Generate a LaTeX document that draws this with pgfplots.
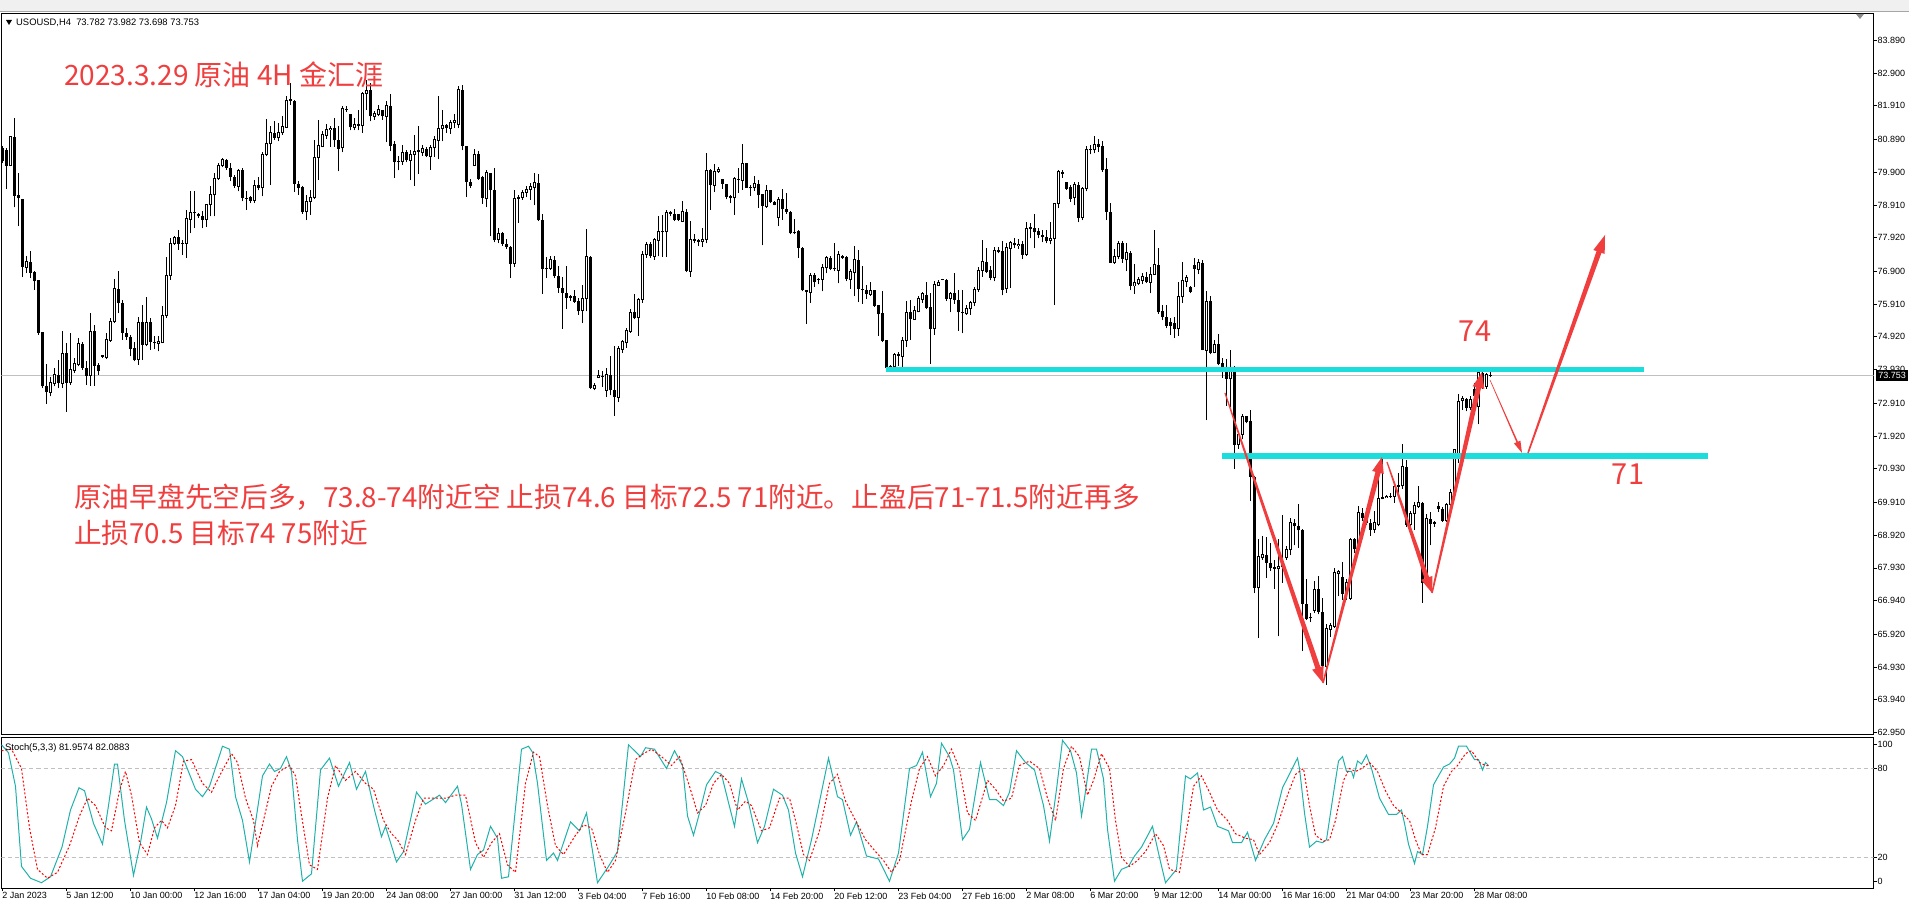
\documentclass[border=0pt]{standalone}
\usepackage{fontspec}
\setmainfont{Liberation Sans}
\newfontfamily\cjk{Noto Sans CJK SC}
\usepackage{pgfplots}
\usepackage{pgfplotstable}
\pgfplotsset{compat=1.18}
\usetikzlibrary{calc}
\definecolor{titlered}{RGB}{240,62,62}
\definecolor{cyanline}{RGB}{28,220,220}
\definecolor{stochk}{RGB}{32,178,170}
\definecolor{tbgray}{RGB}{240,240,240}
\definecolor{pricegray}{RGB}{192,192,192}

\pgfplotsset{candle/.style={only marks, mark=*, mark size=0pt,
  mark options={draw=none, fill=none}, forget plot}}

\pgfplotstableread{
i o h l c
1 80.64 80.69 80.18 80.23
2 80.59 80.64 79.39 80.10
3 80.10 80.97 80.10 80.97
4 80.97 81.54 78.84 79.19
5 79.22 79.88 78.27 79.12
6 79.09 79.09 76.73 77.03
7 77.03 77.36 76.85 77.19
8 77.19 77.51 76.70 76.85
9 76.87 76.90 76.35 76.60
10 76.63 76.63 74.99 75.04
11 75.07 75.07 73.37 73.42
12 73.44 74.11 72.90 73.24
13 73.24 73.72 73.12 73.54
14 73.52 73.98 73.42 73.77
15 73.77 74.23 73.37 73.52
16 73.52 75.09 73.37 74.43
17 74.43 74.73 72.65 73.54
18 73.54 75.04 73.47 73.93
19 73.91 74.28 73.82 74.11
20 74.08 74.88 74.03 74.71
21 74.71 74.78 73.93 73.98
22 73.98 74.18 73.47 73.75
23 73.75 75.64 73.44 75.09
24 75.09 75.29 73.44 74.05
25 74.08 74.13 73.77 73.88
26 74.33 74.38 74.28 74.35
27 74.31 75.04 74.25 74.84
28 74.81 75.49 74.78 75.39
29 75.39 76.67 75.34 76.37
30 76.37 76.90 75.64 75.94
31 75.94 76.04 74.84 75.04
32 75.04 75.19 74.84 74.92
33 74.92 74.99 74.33 74.55
34 74.58 74.78 74.18 74.21
35 74.23 75.52 74.08 75.36
36 75.36 75.89 74.23 74.68
37 74.68 76.12 74.63 75.36
38 75.36 75.49 74.53 74.78
39 74.78 74.96 74.55 74.73
40 74.73 74.94 74.48 74.77
41 74.75 75.86 74.73 75.56
42 75.56 77.34 75.49 76.78
43 76.78 77.91 76.65 77.76
44 77.76 77.96 77.71 77.93
45 77.93 78.14 77.56 77.73
46 77.76 77.86 77.41 77.74
47 77.76 78.77 77.31 78.49
48 78.47 79.32 78.06 78.67
49 78.67 79.32 78.21 78.69
50 78.64 78.67 78.52 78.57
51 78.59 78.72 78.21 78.47
52 78.47 78.95 78.26 78.92
53 78.92 79.50 78.57 79.22
54 79.22 79.88 78.57 79.70
55 79.70 80.18 79.68 80.12
56 80.10 80.33 80.06 80.30
57 80.28 80.30 79.98 80.03
58 80.03 80.18 79.63 79.76
59 79.76 79.83 79.43 79.48
60 79.48 80.00 79.32 79.96
61 79.96 80.03 79.02 79.12
62 79.12 79.32 78.77 79.10
63 79.15 79.19 78.97 79.04
64 79.04 79.68 78.97 79.51
65 79.53 79.76 79.35 79.43
66 79.43 80.50 79.17 80.45
67 80.45 81.51 80.38 80.76
68 80.76 81.29 79.53 81.09
69 81.09 81.44 80.89 80.94
70 80.94 81.39 80.84 81.09
71 81.09 81.61 81.04 81.29
72 81.27 82.20 81.24 82.07
73 82.07 82.60 81.95 82.10
74 82.07 82.10 79.30 79.56
75 79.56 79.63 79.22 79.43
76 79.45 79.50 78.65 78.69
77 78.70 79.22 78.45 79.02
78 79.02 79.37 78.62 79.15
79 79.15 80.89 79.09 80.36
80 80.36 81.49 79.66 80.71
81 80.69 81.14 80.66 81.04
82 81.01 81.37 80.91 81.19
83 81.19 81.29 80.67 81.24
84 81.24 81.54 80.67 80.87
85 80.89 81.29 79.93 80.61
86 80.64 81.92 80.50 81.82
87 81.82 81.90 81.72 81.78
88 81.67 81.67 81.17 81.26
89 81.26 81.54 81.17 81.36
90 81.37 81.80 81.17 81.31
91 81.31 82.32 81.09 82.27
92 82.27 82.68 81.80 82.38
93 82.38 82.60 81.44 81.59
94 81.59 81.75 81.49 81.67
95 81.65 81.95 81.59 81.80
96 81.80 81.80 81.49 81.59
97 81.59 82.05 80.81 81.92
98 81.92 82.28 80.54 80.71
99 80.77 80.84 79.73 80.20
100 80.25 80.38 79.96 80.20
101 80.23 80.74 80.13 80.50
102 80.50 80.57 80.20 80.26
103 80.26 80.59 79.66 80.45
104 80.45 81.04 79.50 80.54
105 80.54 81.31 79.86 80.56
106 80.51 80.74 80.40 80.61
107 80.61 80.67 80.36 80.38
108 80.38 80.74 79.98 80.64
109 80.64 80.99 80.36 80.89
110 80.87 82.22 80.30 81.24
111 81.24 81.78 80.84 81.31
112 81.32 81.37 81.09 81.24
113 81.22 81.47 81.07 81.41
114 81.41 81.65 81.24 81.46
115 81.36 82.52 81.24 82.40
116 82.40 82.55 80.57 80.69
117 80.71 80.71 79.15 79.60
118 79.61 79.70 79.43 79.48
119 80.10 80.61 80.10 80.45
120 80.45 80.56 79.68 79.71
121 79.76 79.80 78.95 79.12
122 79.12 79.98 78.85 79.88
123 79.88 79.88 77.96 79.35
124 79.35 80.03 77.78 77.84
125 77.86 78.22 77.76 78.06
126 78.06 78.08 77.68 77.74
127 77.74 77.88 77.58 77.64
128 77.64 77.68 76.70 77.14
129 77.14 79.35 77.05 79.12
130 79.12 79.22 78.37 79.15
131 79.15 79.35 79.07 79.30
132 79.30 79.48 79.15 79.38
133 79.38 79.58 79.07 79.46
134 79.45 79.88 78.90 79.58
135 79.58 79.86 78.42 78.45
136 78.45 78.65 76.23 76.97
137 76.98 77.34 76.70 77.00
138 77.00 77.36 76.95 77.26
139 77.26 77.38 76.70 76.75
140 76.77 77.07 76.25 76.40
141 76.40 76.73 75.16 76.25
142 76.25 77.07 75.76 76.10
143 76.15 76.20 76.02 76.10
144 76.17 76.35 75.95 75.99
145 76.02 76.10 75.59 75.69
146 75.72 76.50 75.34 76.07
147 76.07 78.18 75.69 77.34
148 77.34 77.38 73.35 73.37
149 73.37 73.54 73.30 73.44
150 73.70 73.93 73.67 73.75
151 73.75 73.88 73.40 73.73
152 73.30 73.98 73.10 73.77
153 73.77 74.35 73.15 73.30
154 73.30 74.65 72.54 73.10
155 73.10 74.65 72.95 74.56
156 74.54 74.84 74.44 74.79
157 74.74 75.19 74.59 75.12
158 75.09 75.75 75.04 75.67
159 75.67 76.23 75.45 75.48
160 75.52 76.10 74.96 76.05
161 76.05 77.53 75.95 77.41
162 77.41 77.79 77.31 77.72
163 77.72 77.79 77.31 77.36
164 77.36 77.92 77.26 77.87
165 77.85 78.59 77.36 78.10
166 78.10 78.62 77.34 78.12
167 78.10 78.76 77.34 78.68
168 78.66 78.73 78.57 78.68
169 78.63 78.80 78.42 78.47
170 78.63 78.63 78.42 78.45
171 78.42 79.03 78.39 78.71
172 78.71 78.80 76.88 76.91
173 76.91 78.44 76.74 77.87
174 77.87 78.02 77.75 77.82
175 77.84 77.87 77.67 77.80
176 77.80 78.22 77.65 77.87
177 77.87 80.49 77.75 79.96
178 79.96 79.99 78.76 79.51
179 79.51 80.14 79.30 79.92
180 79.92 80.07 79.89 79.99
181 79.71 79.71 79.41 79.55
182 79.55 79.56 79.08 79.16
183 79.18 79.20 78.96 79.13
184 79.13 79.75 78.62 79.71
185 79.71 80.04 79.28 79.66
186 79.66 80.77 79.38 80.17
187 80.17 80.19 79.43 79.43
188 79.43 79.53 79.18 79.45
189 79.43 79.78 79.33 79.55
190 79.55 79.68 78.83 79.20
191 79.23 79.23 77.69 78.88
192 78.88 79.53 78.83 79.35
193 79.35 79.38 78.98 79.00
194 79.00 79.03 78.90 78.91
195 78.52 79.16 78.27 79.08
196 79.08 79.40 78.47 78.78
197 78.78 79.26 78.64 78.70
198 78.70 78.73 78.02 78.05
199 78.09 78.49 78.02 78.05
200 78.12 78.15 77.31 77.62
201 77.62 77.65 76.30 76.33
202 76.35 76.35 75.32 76.27
203 76.27 76.84 75.95 76.78
204 76.78 76.84 76.44 76.58
205 76.68 76.71 76.51 76.64
206 76.66 77.13 76.30 77.01
207 77.01 77.38 76.84 77.31
208 77.31 77.38 76.94 76.98
209 77.01 77.75 76.91 76.96
210 76.94 77.51 76.54 77.41
211 77.38 77.41 77.28 77.31
212 77.33 77.36 76.61 76.66
213 76.66 76.98 76.38 76.91
214 76.88 77.67 76.15 77.26
215 77.26 77.54 75.97 76.37
216 76.38 77.08 75.93 76.34
217 76.35 76.48 76.07 76.23
218 76.20 76.59 76.17 76.32
219 76.33 76.35 75.83 75.85
220 75.87 75.90 74.96 75.60
221 75.63 76.30 74.76 74.79
222 74.82 74.82 73.88 73.98
223 74.01 74.06 73.90 74.02
224 74.01 74.44 73.98 74.39
225 74.36 74.46 74.04 74.38
226 74.34 74.92 74.02 74.82
227 74.82 76.01 74.62 75.66
228 75.66 76.04 74.84 75.45
229 75.45 75.85 75.43 75.73
230 75.68 76.15 75.66 76.07
231 76.05 76.29 75.96 76.24
232 76.20 76.57 75.77 75.79
233 75.81 76.26 74.11 75.15
234 75.17 76.61 74.98 76.50
235 76.48 76.63 76.46 76.57
236 76.66 76.68 76.64 76.66
237 76.63 76.66 76.01 76.07
238 76.09 76.29 75.66 76.24
239 76.26 76.85 75.92 76.04
240 76.04 76.33 75.10 75.66
241 75.66 76.33 75.03 75.67
242 75.62 75.90 75.59 75.77
243 75.77 76.01 75.59 75.96
244 75.96 76.44 75.85 76.35
245 76.35 77.02 76.29 76.93
246 76.93 77.86 76.74 77.19
247 77.19 77.60 76.85 76.89
248 76.93 77.08 76.63 76.71
249 76.71 77.64 76.60 77.53
250 77.56 77.64 77.45 77.50
251 77.53 77.81 76.18 76.35
252 76.37 77.75 76.26 77.62
253 77.60 77.83 76.41 77.77
254 77.77 77.90 77.60 77.69
255 77.69 77.88 77.58 77.73
256 77.73 77.81 77.27 77.41
257 77.41 78.39 77.38 78.20
258 78.20 78.37 77.90 78.22
259 78.22 78.65 77.60 78.09
260 78.11 78.20 77.90 78.00
261 78.01 78.16 77.78 77.94
262 77.94 78.16 77.75 77.81
263 77.83 78.39 77.72 77.90
264 77.90 78.98 75.90 78.95
265 78.95 79.96 78.81 79.91
266 79.91 79.96 79.73 79.85
267 79.60 79.62 79.37 79.40
268 79.45 79.51 79.01 79.09
269 79.13 79.62 78.90 79.52
270 79.52 79.62 78.39 78.53
271 78.53 79.45 78.45 79.41
272 79.41 80.69 79.32 80.58
273 80.58 80.72 80.44 80.60
274 80.58 81.00 80.47 80.74
275 80.77 80.92 80.51 80.66
276 80.69 80.85 79.91 79.96
277 79.99 80.32 78.45 78.70
278 78.70 78.98 77.16 77.16
279 77.16 77.58 77.13 77.36
280 77.36 77.83 77.27 77.75
281 77.75 77.83 77.16 77.27
282 77.25 77.75 76.91 77.47
283 77.47 77.53 76.33 76.46
284 76.46 77.13 76.22 76.57
285 76.55 76.74 76.48 76.66
286 76.63 76.85 76.52 76.74
287 76.74 76.89 76.55 76.57
288 76.57 77.04 76.24 76.82
289 76.82 78.14 76.80 77.10
290 77.10 77.60 75.62 75.66
291 75.70 75.88 75.43 75.51
292 75.51 75.90 75.18 75.25
293 75.37 75.48 74.98 75.25
294 75.34 75.51 74.90 75.17
295 75.17 76.57 74.95 76.13
296 76.13 77.19 75.96 76.63
297 76.60 76.78 76.44 76.71
298 76.44 76.46 76.24 76.29
299 77.10 77.30 76.44 76.97
300 76.97 77.27 76.82 77.16
301 77.16 77.24 74.52 74.52
302 74.52 76.30 72.40 76.00
303 76.00 76.15 74.39 74.44
304 74.44 74.84 74.42 74.69
305 74.69 75.02 74.06 74.09
306 74.12 74.29 73.68 73.99
307 73.99 74.24 72.84 73.65
308 73.65 74.52 72.80 73.88
309 73.88 74.04 70.93 71.66
310 71.66 72.07 71.53 71.97
311 71.97 72.60 71.82 72.52
312 72.52 72.54 72.30 72.34
313 72.37 72.70 69.95 70.69
314 70.69 70.71 67.17 67.33
315 67.33 68.79 65.81 68.26
316 68.23 68.89 68.18 68.33
317 68.33 68.87 67.63 68.08
318 68.08 68.67 67.83 67.93
319 67.96 68.18 67.30 67.90
320 67.90 68.79 65.86 67.96
321 67.96 69.52 67.48 68.00
322 68.23 68.59 68.18 68.48
323 68.48 69.45 68.31 69.29
324 69.29 69.40 68.61 69.19
325 69.21 69.85 68.54 69.07
326 69.09 69.11 65.41 66.85
327 66.85 67.58 66.35 66.39
328 66.42 66.57 66.29 66.44
329 66.65 67.53 66.57 67.28
330 67.28 67.70 66.52 66.59
331 66.59 67.02 64.57 64.96
332 64.96 66.22 64.40 66.09
333 66.07 66.25 65.84 66.19
334 66.17 67.93 66.12 67.78
335 67.77 67.88 67.07 67.83
336 67.66 68.10 66.97 67.15
337 67.15 67.58 66.97 67.50
338 67.00 68.84 66.97 68.79
339 68.79 68.84 68.39 68.49
340 68.49 69.80 68.47 69.60
341 69.60 69.75 69.35 69.45
342 69.48 69.75 69.24 69.29
343 69.29 69.40 68.91 69.09
344 69.09 69.65 68.99 69.29
345 69.24 70.81 69.19 70.02
346 70.02 71.29 70.00 70.05
347 70.05 70.15 70.05 70.10
348 70.10 70.20 70.05 70.10
349 70.10 70.52 69.90 70.40
350 70.40 70.81 70.10 70.41
351 70.41 71.69 70.32 70.99
352 70.99 71.21 69.17 69.24
353 69.24 69.65 69.19 69.58
354 69.58 69.92 69.09 69.82
355 69.80 70.40 69.75 69.90
356 69.90 69.92 66.87 67.46
357 67.46 69.55 67.43 69.42
358 69.42 69.62 68.61 69.27
359 69.27 69.35 69.17 69.29
360 69.80 69.92 69.62 69.72
361 69.72 69.78 69.32 69.35
362 69.35 69.90 69.32 69.85
363 69.85 70.32 69.80 70.20
364 70.20 71.51 70.18 71.51
365 71.26 73.18 71.11 72.98
366 73.00 73.12 72.72 73.05
367 73.05 73.08 72.67 72.78
368 72.78 73.13 72.72 73.03
369 73.33 73.53 72.82 73.13
370 72.82 73.88 72.27 73.83
371 73.83 73.88 73.35 73.43
372 73.43 73.83 73.35 73.78
373 73.782 73.982 73.698 73.753
}\candles

\pgfplotstableread{
x k
2 96
9 90.6
16 68
22 14
31 6
42 3
51 7
62.5 27
71 52
79.5 67
85 65
94 43
103 29
109 55
115 83
118 83
125 45
134 8
141 30
147 54
152 46
158 33
167 57
176 92
183 88
196 66
203 61
210 68
223 95
230 93
236 61
243 45
250 17
257 48
263 75
270 83
275 78
281 80
287 88
292 78
298 32
303 4
312 9
321 79
330 87
339 68
350 84
357 66
366 78
375 52
382 34
386 41
397 17
404 24
417 64
426 56
440 62
446 57
458 68
462 56
471 12
478 22
484 25
491 41
498 33
502 6
509 7
522 93
529 95
533 91
538 70
547 18
554 23
558 18
571 44
580 38
587 50
598 3
609 14
618 24
629 96
641 88
646 94
655 93
667 80
675 92
683 82
688 48
694 35
700 50
707 69
716 78
722 76
729 57
735 41
742 73
749 57
758 30
765 41
774 66
783 62
789 52
796 23
803 7
812 32
821 61
829 87
838 61
843 59
851 35
857 44
867 21
879 19
890 4
899 23
910 80
917 82
923 91
931 61
937 70
942 97
950 88
954 79
963 32
970 39
981 84
990 59
997 59
1004 55
1010 64
1017 92
1026 84
1035 79
1044 55
1050 31
1057 66
1063 99
1071 92
1077 77
1082 48
1085 60
1092 93
1097 93
1104 73
1108 39
1115 4
1122 12
1129 14
1135 21
1142 27
1153 41
1160 20
1166 3
1177 12
1186 75
1191 73
1198 77
1204 52
1211 54
1218 41
1229 38
1233 30
1242 30
1248 37
1256 18
1265 32
1274 43
1283 67
1292 79
1298 87
1300 80
1305 50
1310 27
1317 31
1323 30
1327 32
1333 59
1339 85
1343 88
1347 78
1352 78
1354 74
1358 85
1362 83
1367 89
1372 80
1380 60
1389 49
1397 49
1402 52
1405 43
1409 29
1415 16
1418 24
1423 22
1428 41
1434 69
1444 81
1450 83
1455 87
1459 95
1467 95
1475 86
1479 86
1483 79
1486 84
1489 82
}\stochK

\pgfplotstableread{
x d
2 92
12 93
22 80
30 40
38 12
48 6
58 10
70 28
80 48
88 60
96 55
106 40
112 38
120 65
126 78
132 62
140 30
148 22
155 40
162 45
168 40
176 55
184 85
192 86
203 70
212 64
220 75
232 90
238 84
246 60
254 45
258 28
264 45
272 68
280 78
290 82
296 75
304 40
310 15
318 12
328 60
336 82
346 72
356 78
366 70
374 66
384 45
392 36
398 32
406 22
416 45
424 60
434 60
446 60
456 62
466 62
476 30
484 20
492 30
500 36
508 15
516 10
526 70
534 91
540 88
548 55
556 28
564 22
576 35
584 42
592 40
600 22
608 10
616 18
626 50
636 86
644 90
652 93
662 88
672 82
680 88
690 68
698 50
706 55
714 70
722 76
730 70
738 52
746 58
752 55
762 38
770 40
780 60
790 60
796 45
804 22
810 18
820 38
830 70
838 76
846 58
856 45
866 32
876 24
884 18
892 10
900 18
912 58
920 80
928 88
936 75
944 82
952 93
960 80
968 50
976 45
988 72
996 66
1004 58
1012 60
1020 82
1030 85
1040 80
1048 60
1056 45
1064 80
1072 95
1080 88
1088 62
1094 72
1102 90
1110 80
1116 45
1122 20
1130 14
1138 18
1146 24
1156 36
1164 28
1170 12
1180 10
1188 42
1194 68
1202 75
1210 64
1218 52
1228 45
1236 36
1246 33
1254 32
1260 22
1270 30
1278 42
1288 62
1296 76
1304 80
1310 55
1316 35
1324 31
1330 32
1336 45
1344 72
1350 80
1356 78
1362 80
1370 84
1378 78
1386 65
1394 55
1402 50
1410 45
1416 32
1422 22
1428 22
1436 40
1444 68
1452 78
1458 82
1466 90
1472 92
1480 84
1486 82
1489 82
}\stochD

\newcommand{\tarrow}[6]{%
  \coordinate (tA) at #1; \coordinate (tB) at #2;
  \coordinate (tC) at ($(tB)!#6!(tA)$);
  \fill[titlered] ($(tA)!#3!90:(tB)$) -- ($(tC)!#4!-90:(tA)$) -- ($(tC)!#5!-90:(tA)$) -- (tB)
    -- ($(tC)!#5!90:(tA)$) -- ($(tC)!#4!90:(tA)$) -- ($(tA)!#3!-90:(tB)$) -- cycle;}

\begin{document}
\begin{tikzpicture}[x=1pt,y=1pt]
\path[use as bounding box] (0pt,0pt) rectangle (1909pt,907pt);
\fill[white] (0pt,0pt) rectangle (1909pt,907pt);
\fill[tbgray] (0pt,895pt) rectangle (1909pt,907pt);
\draw[black!35, line width=0.8pt] (0pt,895.5pt) -- (1909pt,895.5pt);

% ---------- main price panel ----------
\begin{axis}[
  at={(1.5pt,893.5pt)}, anchor=north west, scale only axis,
  width=1872pt, height=721pt,
  xmin=2, xmax=1874, ymin=62.889, ymax=84.706,
  axis line style={black, line width=1pt},
  xtick=\empty,
  ytick={62.95,63.94,64.93,65.92,66.94,67.93,68.92,69.91,70.93,71.92,72.91,73.93,74.92,75.91,76.90,77.92,78.91,79.90,80.89,81.91,82.90,83.89},
  ytick pos=right, yticklabel pos=right,
  tick align=outside, major tick length=3pt,
  tick style={black, line width=0.8pt},
  yticklabel style={font=\fontsize{9}{10}\selectfont, anchor=west, inner sep=0pt, xshift=1pt},
  /pgf/number format/fixed, /pgf/number format/fixed zerofill,
  /pgf/number format/precision=3, /pgf/number format/assume math mode=true,
]
\draw[pricegray, line width=1pt] (axis cs:2,73.753) -- (axis cs:1874,73.753);
% wicks
\addplot[candle,
  error bars/.cd, y dir=plus, y explicit, error mark=none,
  error bar style={draw=black, line width=1pt}]
  table[x expr=4*\thisrow{i}-1.3, y=l, y error plus expr={\thisrow{h}-\thisrow{l}}] {\candles};
% bear bodies
\addplot[candle,
  x filter/.expression={\thisrow{c}<\thisrow{o} ? x : nan},
  error bars/.cd, y dir=plus, y explicit, error mark=none,
  error bar style={draw=black, line width=3pt}]
  table[x expr=4*\thisrow{i}-1.3, y=c, y error plus expr={\thisrow{o}-\thisrow{c}}] {\candles};
% bull bodies: outline
\addplot[candle,
  x filter/.expression={\thisrow{c}<\thisrow{o} ? nan : x},
  error bars/.cd, y dir=plus, y explicit, error mark=none,
  error bar style={draw=black, line width=3pt}]
  table[x expr=4*\thisrow{i}-1.3, y expr={\thisrow{o}-0.015}, y error plus expr={\thisrow{c}-\thisrow{o}+0.03}] {\candles};
% bull bodies: white inside
\addplot[candle,
  x filter/.expression={\thisrow{c}<\thisrow{o} ? nan : x},
  error bars/.cd, y dir=plus, y explicit, error mark=none,
  error bar style={draw=white, line width=1pt}]
  table[x expr=4*\thisrow{i}-1.3, y expr={\thisrow{o}+0.015}, y error plus expr={max(\thisrow{c}-\thisrow{o}-0.03,0)}] {\candles};
\end{axis}

% ---------- stochastic panel ----------
\begin{axis}[
  at={(1.5pt,169.5pt)}, anchor=north west, scale only axis,
  width=1872pt, height=151pt,
  xmin=2, xmax=1874, ymin=-0.9, ymax=100.9,
  axis line style={black, line width=1pt},
  ytick={3.8,20,80,96.2}, yticklabels={0,20,80,100},
  ytick pos=right, yticklabel pos=right,
  xtick={2.7,66.7,130.7,194.7,258.7,322.7,386.7,450.7,514.7,578.7,642.7,706.7,770.7,834.7,898.7,962.7,1026.7,1090.7,1154.7,1218.7,1282.7,1346.7,1410.7,1474.7},
  xticklabels={2 Jan 2023,5 Jan 12:00,10 Jan 00:00,12 Jan 16:00,17 Jan 04:00,19 Jan 20:00,24 Jan 08:00,27 Jan 00:00,31 Jan 12:00,3 Feb 04:00,7 Feb 16:00,10 Feb 08:00,14 Feb 20:00,20 Feb 12:00,23 Feb 04:00,27 Feb 16:00,2 Mar 08:00,6 Mar 20:00,9 Mar 12:00,14 Mar 00:00,16 Mar 16:00,21 Mar 04:00,23 Mar 20:00,28 Mar 08:00},
  xtick pos=bottom,
  tick align=outside, major tick length=3pt,
  tick style={black, line width=0.8pt},
  yticklabel style={font=\fontsize{9}{10}\selectfont, anchor=west, inner sep=0pt, xshift=1pt},
  xticklabel style={font=\fontsize{9}{10}\selectfont, anchor=north west, inner sep=0pt, xshift=0pt, yshift=-1pt},
]
\draw[pricegray, line width=1pt, dash pattern=on 4pt off 3pt] (axis cs:2,80) -- (axis cs:1874,80);
\draw[pricegray, line width=1pt, dash pattern=on 4pt off 3pt] (axis cs:2,20) -- (axis cs:1874,20);
\addplot[stochk, line width=1pt, mark=none] table[x=x, y=k] {\stochK};
\addplot[red, line width=1pt, mark=none, dash pattern=on 2pt off 2pt] table[x=x, y=d] {\stochD};
\end{axis}

% ---------- annotations ----------
\draw[cyanline, line width=5pt] (886pt,537pt) -- (1644pt,537pt);
\draw[cyanline, line width=6pt] (1222pt,451pt) -- (1708pt,451pt);

\tarrow{(1225pt,514pt)}{(1323pt,224pt)}{0.6pt}{2.6pt}{6pt}{16pt}
\tarrow{(1323pt,224pt)}{(1382pt,450pt)}{0.8pt}{2.6pt}{6pt}{16pt}
\tarrow{(1387pt,445pt)}{(1432pt,314pt)}{0.6pt}{2.4pt}{6pt}{16pt}
\tarrow{(1432pt,314pt)}{(1482pt,535pt)}{0.8pt}{2.6pt}{6pt}{16pt}
\tarrow{(1490pt,527pt)}{(1522pt,454pt)}{0.3pt}{0.8pt}{3.5pt}{12pt}
\tarrow{(1528pt,454pt)}{(1605pt,672pt)}{0.8pt}{2.6pt}{6pt}{18pt}

\node[anchor=west, inner sep=0pt, text=titlered, font=\cjk\fontsize{28}{30}\selectfont] at (64pt,832pt) {2023.3.29 原油 4H 金汇涯};
\node[anchor=west, inner sep=0pt, text=titlered, font=\cjk\fontsize{27.7}{30}\selectfont] at (74pt,410pt) {原油早盘先空后多，73.8-74附近空 止损74.6 目标72.5 71附近。止盈后71-71.5附近再多};
\node[anchor=west, inner sep=0pt, text=titlered, font=\cjk\fontsize{27.7}{30}\selectfont] at (74pt,374pt) {止损70.5 目标74 75附近};
\node[inner sep=0pt, text=titlered, font=\cjk\fontsize{29}{30}\selectfont] at (1475pt,576pt) {74};
\node[inner sep=0pt, text=titlered, font=\cjk\fontsize{29}{30}\selectfont] at (1628pt,433pt) {71};

% header texts
\fill[black] (6pt,887pt) -- (12pt,887pt) -- (9pt,882pt) -- cycle;
\node[anchor=west, inner sep=0pt, font=\fontsize{9.4}{10}\selectfont] at (16pt,884pt) {USOUSD,H4\ \ 73.782 73.982 73.698 73.753};
\node[anchor=west, inner sep=0pt, font=\fontsize{9.4}{10}\selectfont] at (5pt,159pt) {Stoch(5,3,3) 81.9574 82.0883};
\fill[black!45] (1856pt,893pt) -- (1864pt,893pt) -- (1860pt,888pt) -- cycle;

% current price tag
\fill[black] (1876pt,526pt) rectangle (1908pt,537pt);
\node[inner sep=0pt, text=white, font=\fontsize{9}{10}\selectfont] at (1892pt,531.5pt) {73.753};
\end{tikzpicture}
\end{document}
